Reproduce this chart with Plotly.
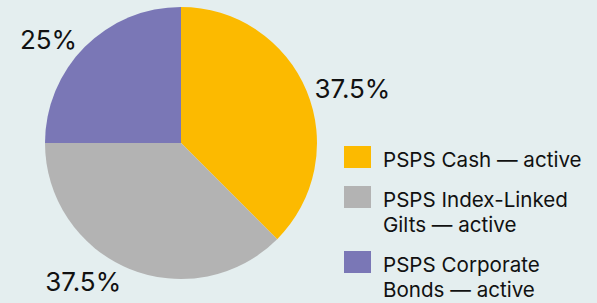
import plotly.graph_objects as go

labels = ["PSPS Cash — active", "PSPS Index-Linked<br>Gilts — active", "PSPS Corporate<br>Bonds — active"]
values = [37.5, 37.5, 25]
colors = ["#FCBA00", "#B3B3B3", "#7A77B6"]

W, H = 597, 303
cx, cy, r = 181, 143, 136

fig = go.Figure(go.Pie(
    labels=labels,
    values=values,
    marker=dict(colors=colors, line=dict(width=0)),
    sort=False,
    direction="clockwise",
    rotation=0,
    textinfo="percent",
    textposition="outside",
    outsidetextfont=dict(size=26, color="#111111", family="Inter"),
    domain=dict(x=[(cx - r) / W, (cx + r) / W], y=[(H - cy - r) / H, (H - cy + r) / H]),
    hoverinfo="label+percent",
    showlegend=False,
))

# Custom legend (large swatches) built from the data arrays
leg_x, sw_w, sw_h, text_x = 344, 27, 22, 382
line_h, item_gap = 25, 15
font_size = 20.6
shapes, annotations = [], []
baseline = 167
for lab, col in zip(labels, colors):
    lines = lab.split("<br>")
    shapes.append(dict(type="rect", xref="paper", yref="paper",
                       x0=leg_x / W, x1=(leg_x + sw_w) / W,
                       y0=1 - (baseline + 1) / H, y1=1 - (baseline + 1 - sw_h) / H,
                       fillcolor=col, line=dict(width=0), layer="above"))
    for i, ln in enumerate(lines):
        annotations.append(dict(text=ln, xref="paper", yref="paper",
                                x=text_x / W, y=1 - (baseline + i * line_h - 7.5) / H,
                                xanchor="left", yanchor="middle", align="left",
                                showarrow=False, borderpad=0,
                                font=dict(size=font_size, color="#111111", family="Inter")))
    baseline += (len(lines) - 1) * line_h + line_h + item_gap

fig.update_layout(
    width=W, height=H,
    margin=dict(l=0, r=0, t=0, b=0),
    paper_bgcolor="#E4EEEF",
    plot_bgcolor="#E4EEEF",
    font=dict(family="Inter", size=20, color="#111111"),
    shapes=shapes,
    annotations=annotations,
)

fig.write_html("out.html", config={"displayModeBar": False},
               post_script="document.body.style.margin='0';document.body.style.background='#E4EEEF';")
